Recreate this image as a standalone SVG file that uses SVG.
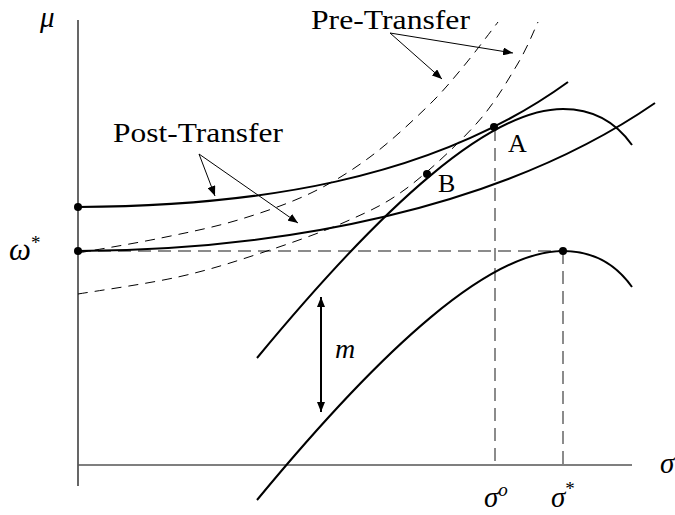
<svg xmlns="http://www.w3.org/2000/svg" width="675" height="515" viewBox="0 0 675 515">
<style>
.txt{font-family:"Liberation Serif",serif;fill:#000}
.math{font-family:"Liberation Serif",serif;font-style:italic;fill:#000}
.solid{fill:none;stroke:#000;stroke-width:2}
.pre{fill:none;stroke:#000;stroke-width:1;stroke-dasharray:10 7}
.ref{fill:none;stroke:#666;stroke-width:1.5;stroke-dasharray:13 7}
.lead{fill:none;stroke:#000;stroke-width:1}
.dot{fill:#000}
</style>
<defs>
<marker id="ah" viewBox="0 0 10 8" refX="10" refY="4" markerWidth="10" markerHeight="8" markerUnits="userSpaceOnUse" orient="auto">
<path d="M0,0 L10,4 L0,8 Z" fill="#000"/>
</marker>
<marker id="ahs" viewBox="0 0 10 8" refX="10" refY="4" markerWidth="10" markerHeight="8" markerUnits="userSpaceOnUse" orient="auto-start-reverse">
<path d="M0,0 L10,4 L0,8 Z" fill="#000"/>
</marker>
</defs>
<g id="axes">
<line x1="78" y1="20" x2="78" y2="486" stroke="#000" stroke-width="1.2"/>
<line x1="78" y1="465" x2="632" y2="465" stroke="#555" stroke-width="1.5"/>
</g>
<g id="reference-lines">
<line class="ref" x1="78" y1="251" x2="563" y2="251"/>
<line class="ref" x1="495" y1="128" x2="495" y2="465"/>
<line class="ref" x1="563" y1="251" x2="563" y2="465"/>
</g>
<g id="pre-transfer-curves">
<path class="pre" d="M78,253 C91.8,250.5 134.3,243.5 161,238 C187.7,232.5 213,227.5 238,220 C263,212.5 289,203.5 311,193 C333,182.5 350.7,171.3 370,157 C389.3,142.7 411.5,122 427,107 C442.5,92 451.2,81.2 463,67 C474.8,52.8 492.2,29.5 498,22"/>
<path class="pre" d="M78,294 C94.7,291.2 147.5,283.8 178,277 C208.5,270.2 233.2,262.2 261,253 C288.8,243.8 320.7,232.8 345,222 C369.3,211.2 385,204.5 407,188 C429,171.5 458.7,143.5 477,123 C495.3,102.5 506.8,81.8 517,65 C527.2,48.2 534.5,29.2 538,22"/>
</g>
<g id="frontiers">
<path class="solid" d="M257,500 C385,345 490,251 563,251 C600,251 620,270 632,287"/>
<path class="solid" d="M257,358 C385,203 490,109 563,109 C600,109 620,128 632,145"/>
</g>
<g id="post-transfer-curves">
<path class="solid" d="M78,207 C250,206 430,182 568,82"/>
<path class="solid" d="M78,251 C280,250 500,210 655,103"/>
</g>
<g id="points">
<circle class="dot" cx="78" cy="207" r="4"/>
<circle class="dot" cx="78" cy="251" r="4"/>
<circle class="dot" cx="494" cy="127" r="4"/>
<circle class="dot" cx="427" cy="174" r="4"/>
<circle class="dot" cx="563" cy="251" r="4"/>
</g>
<g id="connectors">
<line class="lead" x1="390" y1="33" x2="442" y2="79" marker-end="url(#ah)"/>
<line class="lead" x1="390" y1="33" x2="513" y2="53" marker-end="url(#ah)"/>
<line class="lead" x1="199" y1="154" x2="215" y2="196" marker-end="url(#ah)"/>
<line class="lead" x1="199" y1="154" x2="298" y2="223" marker-end="url(#ah)"/>
<line x1="321" y1="297" x2="321" y2="412" stroke="#000" stroke-width="2" marker-start="url(#ahs)" marker-end="url(#ahs)"/>
</g>
<g id="labels">
<text class="txt" x="311" y="29" font-size="27" textLength="159" lengthAdjust="spacingAndGlyphs">Pre-Transfer</text>
<text class="txt" x="113" y="142" font-size="27" textLength="170" lengthAdjust="spacingAndGlyphs">Post-Transfer</text>
<text class="txt" x="508" y="152" font-size="26">A</text>
<text class="txt" x="438" y="192" font-size="26">B</text>
<text class="math" x="40" y="27" font-size="29">μ</text>
<text class="math" x="9" y="260" font-size="31">ω<tspan font-style="normal" font-size="19" dy="-11">*</tspan></text>
<text class="math" x="660" y="473" font-size="29">σ</text>
<text class="math" x="484" y="507" font-size="29">σ<tspan font-size="19" dy="-11">o</tspan></text>
<text class="math" x="551" y="507" font-size="29">σ<tspan font-style="normal" font-size="19" dy="-12">*</tspan></text>
<text class="math" x="335" y="358" font-size="28">m</text>
</g>
</svg>
